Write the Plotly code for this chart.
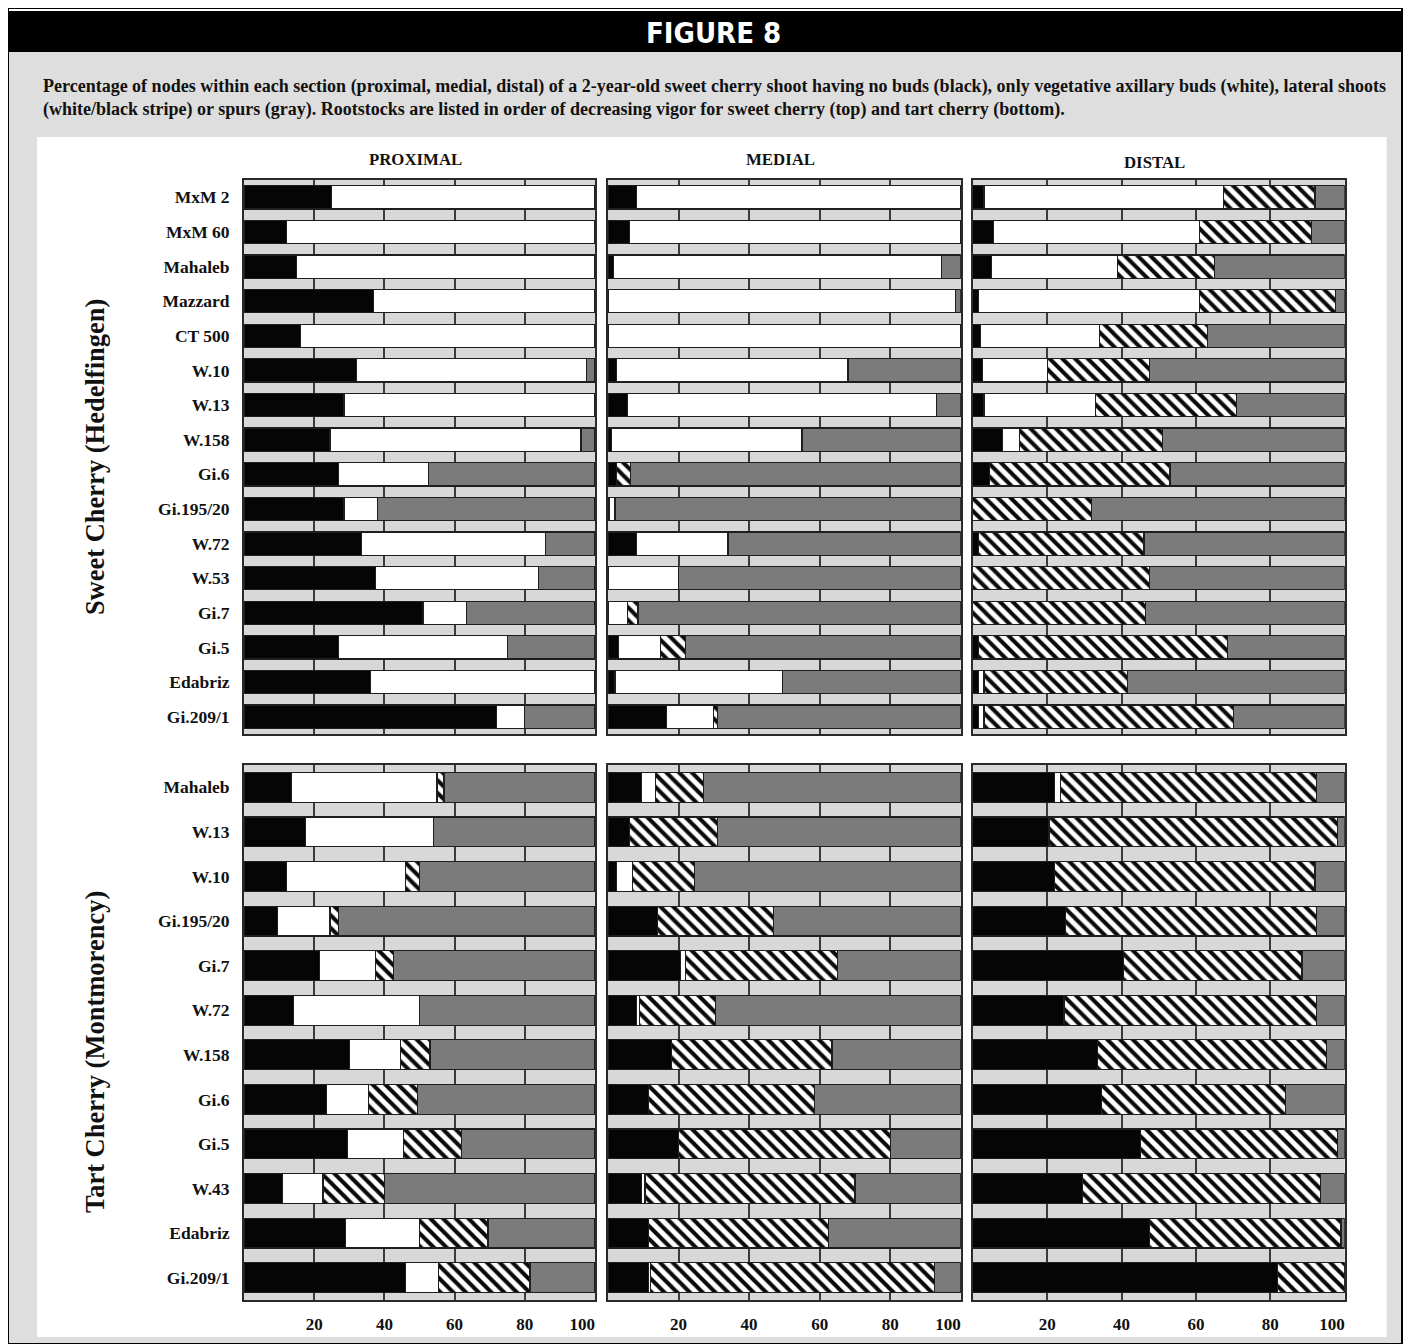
import plotly.graph_objects as go

# page body has an 8px margin; the photographed page also comes out slightly squeezed
# horizontally, so target positions (measured on the reference) are mapped through S.
OFF = 8
S = 0.982
W, H = 1420, 1336

# ---------------- data ----------------
sweet_rootstocks = ["MxM 2", "MxM 60", "Mahaleb", "Mazzard", "CT 500", "W.10", "W.13", "W.158",
                    "Gi.6", "Gi.195/20", "W.72", "W.53", "Gi.7", "Gi.5", "Edabriz", "Gi.209/1"]
tart_rootstocks = ["Mahaleb", "W.13", "W.10", "Gi.195/20", "Gi.7", "W.72", "W.158", "Gi.6",
                   "Gi.5", "W.43", "Edabriz", "Gi.209/1"]

sections = ["PROXIMAL", "MEDIAL", "DISTAL"]
tick_vals = [20, 40, 60, 80, 100]
tick_text = ["20", "40", "60", "80", "100" + "\u00a0" * 6]

# sweet cherry (Hedelfingen)
sweet_prox_none = [25, 12, 15, 37, 16, 32, 28.5, 24.5, 27, 28.5, 33.5, 37.5, 51, 27, 36, 72]
sweet_prox_veg = [75, 88, 85, 63, 84, 65.5, 71.5, 71.5, 25.5, 9.5, 52.5, 46.5, 12.5, 48, 64, 8]
sweet_prox_lat = [0, 0, 0, 0, 0, 0, 0, 0, 0, 0, 0, 0, 0, 0, 0, 0]
sweet_prox_spur = [0, 0, 0, 0, 0, 2.5, 0, 4, 47.5, 62, 14, 16, 36.5, 25, 0, 20]

sweet_med_none = [8, 6, 1.5, 0, 0, 2.5, 5.5, 1, 2.5, 0.5, 8, 0, 0, 3, 2, 16.5]
sweet_med_veg = [92, 94, 93, 98.5, 100, 65.5, 87.5, 54, 0, 1.5, 26, 20, 5.5, 12, 47.5, 13.5]
sweet_med_lat = [0, 0, 0, 0, 0, 0, 0, 0, 4, 0, 0, 0, 3, 7, 0, 1]
sweet_med_spur = [0, 0, 5.5, 1.5, 0, 32, 7, 45, 93.5, 98, 66, 80, 91.5, 78, 50.5, 69]

sweet_dist_none = [3, 5.5, 5, 1.5, 2, 2.5, 3, 8, 4.5, 0, 1.5, 0, 0, 1.5, 1.5, 1.5]
sweet_dist_veg = [64.5, 55.5, 34, 59.5, 32, 17.5, 30, 4.5, 0, 0, 0, 0, 0, 0, 1.5, 1.5]
sweet_dist_lat = [24.5, 30, 26, 36.5, 29, 27.5, 38, 38.5, 48.5, 32, 44.5, 47.5, 46.5, 67, 38.5, 67]
sweet_dist_spur = [8, 9, 35, 2.5, 37, 52.5, 29, 49, 47, 68, 54, 52.5, 53.5, 31.5, 58.5, 30]

# tart cherry (Montmorency)
tart_prox_none = [13.5, 17.5, 12, 9.5, 21.5, 14, 30, 23.5, 29.5, 11, 29, 46]
tart_prox_veg = [41.5, 36.5, 34, 15, 16, 36, 14.5, 12, 16, 11.5, 21, 9.5]
tart_prox_lat = [2, 0, 4, 2.5, 5, 0, 8.5, 14, 16.5, 17.5, 19.5, 26]
tart_prox_spur = [43, 46, 50, 73, 57.5, 50, 47, 50.5, 38, 60, 30.5, 18.5]

tart_med_none = [9.5, 6, 2.5, 14, 20.5, 8, 18, 11.5, 20, 9.5, 11.5, 11.5]
tart_med_veg = [4, 0, 4.5, 0, 1.5, 1, 0, 0, 0, 1, 0, 0.5]
tart_med_lat = [13.5, 25, 17.5, 33, 43, 21.5, 45.5, 47, 60, 59.5, 51, 80.5]
tart_med_spur = [73, 69, 75.5, 53, 35, 69.5, 36.5, 41.5, 20, 30, 37.5, 7.5]

tart_dist_none = [22, 20.5, 22, 25, 40.5, 24.5, 33.5, 34.5, 45, 29.5, 47.5, 82]
tart_dist_veg = [1.5, 0, 0, 0, 0, 0, 0, 0, 0, 0, 0, 0]
tart_dist_lat = [69, 77.5, 70, 67.5, 48, 68, 61.5, 49.5, 53, 64, 51.5, 18]
tart_dist_spur = [7.5, 2, 8, 7.5, 11.5, 7.5, 5, 16, 2, 6.5, 1, 0]

# ---------------- helpers ----------------
def px(x):
    return min(1.0, max(0.0, (x / S - OFF) / W))


def py(y):
    return min(1.0, max(0.0, 1 - (y - OFF) / H))


SERIF = "Liberation Serif"
segment_styles = [
    dict(color="#050505"),
    dict(color="#ffffff"),
    dict(color="#ffffff", pattern=dict(shape="\\", fgcolor="#0a0a0a", bgcolor="#ffffff",
                                       size=9, solidity=0.45, fillmode="replace")),
    dict(color="#7b7b7b"),
]

panels = [
    (0, 0, sweet_rootstocks, [sweet_prox_none, sweet_prox_veg, sweet_prox_lat, sweet_prox_spur]),
    (0, 1, sweet_rootstocks, [sweet_med_none, sweet_med_veg, sweet_med_lat, sweet_med_spur]),
    (0, 2, sweet_rootstocks, [sweet_dist_none, sweet_dist_veg, sweet_dist_lat, sweet_dist_spur]),
    (1, 0, tart_rootstocks, [tart_prox_none, tart_prox_veg, tart_prox_lat, tart_prox_spur]),
    (1, 1, tart_rootstocks, [tart_med_none, tart_med_veg, tart_med_lat, tart_med_spur]),
    (1, 2, tart_rootstocks, [tart_dist_none, tart_dist_veg, tart_dist_lat, tart_dist_spur]),
]

x_px = [(244, 595), (608, 961), (973, 1345)]
y_px = [(180, 734), (765, 1300)]

fig = go.Figure()
layout_axes = {}
for i, (r, c, cats, series) in enumerate(panels):
    n = i + 1
    xa = "x" if n == 1 else f"x{n}"
    ya = "y" if n == 1 else f"y{n}"
    for style, vals in zip(segment_styles, series):
        marker = dict(style)
        marker["line"] = dict(color="#1e1e1e", width=1.2)
        fig.add_trace(go.Bar(y=cats, x=vals, orientation="h", xaxis=xa, yaxis=ya,
                             marker=marker, showlegend=False))
    x0, x1 = x_px[c]
    y0, y1 = y_px[r]
    layout_axes["xaxis" if n == 1 else f"xaxis{n}"] = dict(
        domain=[px(x0), px(x1)], range=[0, 100], anchor=ya,
        tickvals=tick_vals, ticktext=tick_text,
        showticklabels=(r == 1), ticks="", ticklabelstandoff=8,
        tickfont=dict(family=SERIF, size=17, color="#111", weight="bold"),
        showgrid=True, gridcolor="#3a3a3a", gridwidth=1.5,
        showline=True, mirror=True, linecolor="#2a2a2a", linewidth=2,
        zeroline=False, fixedrange=True)
    layout_axes["yaxis" if n == 1 else f"yaxis{n}"] = dict(
        domain=[py(y1), py(y0)], anchor=xa, type="category",
        categoryorder="array", categoryarray=cats,
        range=[len(cats) - 0.5, -0.5],
        showticklabels=(c == 0), ticks="", ticklabelstandoff=9,
        tickfont=dict(family=SERIF, size=17.5, color="#111", weight="bold"),
        showgrid=False, showline=True, mirror=True, linecolor="#2a2a2a", linewidth=2,
        zeroline=False, fixedrange=True)

fig.update_layout(**layout_axes)

# ---------------- frame / background shapes ----------------
GRAY = "#dedede"
shapes = []


def rect(x0, y0, x1, y1, fill, line_color=None, line_width=0):
    shapes.append(dict(type="rect", xref="paper", yref="paper",
                       x0=px(x0), x1=px(x1), y0=py(y1), y1=py(y0),
                       fillcolor=fill, line=dict(color=line_color or fill, width=line_width),
                       layer="below"))


# gray ring around the white plotting area
rect(7, 52, 1419, 137, GRAY)
rect(7, 137, 37, 1344, GRAY)
rect(1387, 137, 1419, 1344, GRAY)
rect(7, 1337, 1419, 1344, GRAY)
# black header bar
rect(8, 11, 1417, 52, "#000000")
# outer border
shapes.append(dict(type="rect", xref="paper", yref="paper",
                   x0=px(7), x1=px(1419), y0=py(1350), y1=py(8),
                   fillcolor="rgba(0,0,0,0)", line=dict(color="#000", width=2), layer="above"))

# ---------------- text ----------------
annotations = [
    dict(text="FIGURE 8", x=px(714), y=py(33), xref="paper", yref="paper",
         showarrow=False, xanchor="center", yanchor="middle",
         font=dict(family="DejaVu Sans Condensed, Liberation Sans", size=29, color="white", weight="bold")),
    dict(text=("Percentage of nodes within each section (proximal, medial, distal) of a 2-year-old sweet cherry "
               "shoot having no buds (black), only vegetative axillary buds (white), lateral shoots<br>"
               "(white/black stripe) or spurs (gray). Rootstocks are listed in order of decreasing vigor for "
               "sweet cherry (top) and tart cherry (bottom)."),
         x=px(41), y=py(74), xref="paper", yref="paper", showarrow=False,
         xanchor="left", yanchor="top", align="left",
         font=dict(family=SERIF, size=18, color="#111", weight="bold")),
]
for c, name in enumerate(sections):
    x0, x1 = x_px[c]
    annotations.append(dict(text=name, x=px((x0 + x1) / 2 - 4), y=py(159 if c < 2 else 162),
                            xref="paper", yref="paper",
                            showarrow=False, xanchor="center", yanchor="middle",
                            font=dict(family=SERIF, size=16.8, color="#111", weight="bold")))
for label, yc in [("Sweet Cherry (Hedelfingen)", 457), ("Tart Cherry (Montmorency)", 1052)]:
    annotations.append(dict(text=label, x=px(95), y=py(yc), xref="paper", yref="paper",
                            showarrow=False, xanchor="center", yanchor="middle", textangle=-90,
                            font=dict(family=SERIF, size=26.5, color="#111", weight="bold")))

fig.update_layout(
    width=W, height=H, margin=dict(l=0, r=0, t=0, b=0),
    paper_bgcolor="white", plot_bgcolor="#d8d8d8",
    barmode="stack", bargap=0.33,
    shapes=shapes, annotations=annotations,
)

fig.write_html("out.html", config={"displayModeBar": False})
